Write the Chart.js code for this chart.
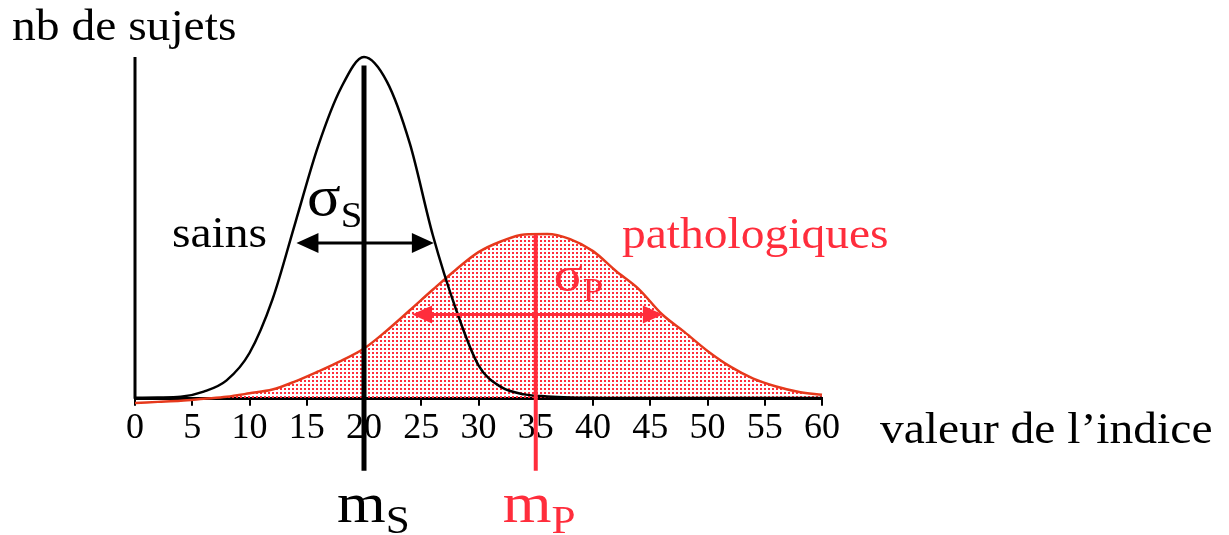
<!DOCTYPE html>
<html>
<head>
<meta charset="utf-8">
<script src="https://cdn.jsdelivr.net/npm/chart.js@4/dist/chart.umd.min.js"></script>
<style>
  html, body { margin: 0; padding: 0; background: #fff; }
</style>
</head>
<body>
<canvas id="chart" width="1229" height="535"></canvas>
<script>
// values (y: arbitrary "nb de sujets", 100 = top of axis)
const xValues = [0, 2, 4, 6, 8, 10, 12, 14, 16, 18, 20, 22, 24, 26, 28, 30,
  32, 34, 36, 38, 40, 42, 44, 46, 48, 50, 52, 54, 56, 58, 60];
const sainsValues = [0.3, 0.4, 0.6, 2.1, 5.4, 13.4, 29, 51.5, 74, 91, 100, 92.8, 74.7, 48, 26.5, 9.8,
  3.4, 1.3, 0.7, 0.4, 0.3, 0.2, 0.2, 0.2, 0.2, 0.2, 0.2, 0.2, 0.2, 0.2, 0.2];
const pathoValues = [-1.2, -0.9, -0.6, 0, 0.6, 1.6, 2.7, 5.1, 8, 11.1, 14.7, 20, 25.9, 31.9, 37.7, 42.9,
  46.1, 48.1, 48.2, 46.7, 43.2, 37.4, 32.1, 24.8, 19.5, 14, 9.4, 5.9, 3.6, 2, 1.2];
const xTickStep = 5;

const meanS = 20;
const meanP = 35;
const sigmaSArrow = [14.1, 26.1, 45.6]; // from, to, height
const sigmaPArrow = [24.2, 46.1, 24.7];

const RED = "#ff2d3c";
const RED_LINE = "#e6391c";
const SERIF = '"Liberation Serif", "Times New Roman", serif';

const canvas = document.getElementById("chart");
const ctx = canvas.getContext("2d");

// dotted fill like the original
function dotPattern() {
  const tile = document.createElement("canvas");
  tile.width = 4;
  tile.height = 4;
  const g = tile.getContext("2d");
  g.fillStyle = RED;
  g.fillRect(0, 0, 2, 2);
  return ctx.createPattern(tile, "repeat");
}

function toPoints(ys) {
  return xValues.map((x, i) => ({ x, y: ys[i] }));
}

// text is a bit wider than tall in the source picture
function drawText(c, text, x, y, size, color) {
  c.save();
  c.translate(x, y);
  c.scale(1.08, 1);
  c.font = `${size}px ${SERIF}`;
  c.fillStyle = color;
  c.textAlign = "left";
  c.textBaseline = "alphabetic";
  c.fillText(text, 0, 0);
  const w = c.measureText(text).width * 1.08;
  c.restore();
  return w;
}

function drawSub(c, main, sub, x, y, size, subSize, drop, color) {
  const w = drawText(c, main, x, y, size, color);
  drawText(c, sub, x + w, y + drop, subSize, color);
}

function drawArrow(c, x1, x2, yy, color, lw, len, half) {
  c.strokeStyle = color;
  c.fillStyle = color;
  c.lineWidth = lw;
  c.beginPath();
  c.moveTo(x1 + len / 2, yy);
  c.lineTo(x2 - len / 2, yy);
  c.stroke();
  c.beginPath();
  c.moveTo(x1, yy);
  c.lineTo(x1 + len, yy - half);
  c.lineTo(x1 + len, yy + half);
  c.closePath();
  c.fill();
  c.beginPath();
  c.moveTo(x2, yy);
  c.lineTo(x2 - len, yy - half);
  c.lineTo(x2 - len, yy + half);
  c.closePath();
  c.fill();
}

const annotations = {
  id: "annotations",
  afterDraw(chart) {
    const c = chart.ctx;
    const { chartArea } = chart;
    const x = chart.scales.x;
    const y = chart.scales.y;
    c.save();

    // y axis
    c.strokeStyle = "#000";
    c.lineWidth = 3;
    c.beginPath();
    c.moveTo(x.getPixelForValue(0), y.getPixelForValue(100));
    c.lineTo(x.getPixelForValue(0), chartArea.bottom);
    c.stroke();

    // means
    const pS = x.getPixelForValue(meanS);
    const pP = x.getPixelForValue(meanP);
    c.lineWidth = 5;
    c.beginPath();
    c.moveTo(pS, y.getPixelForValue(97.5));
    c.lineTo(pS, chartArea.bottom + 72);
    c.stroke();
    c.strokeStyle = RED;
    c.lineWidth = 4;
    c.beginPath();
    c.moveTo(pP, y.getPixelForValue(48));
    c.lineTo(pP, chartArea.bottom + 72);
    c.stroke();

    // sigma arrows
    drawArrow(c, x.getPixelForValue(sigmaSArrow[0]), x.getPixelForValue(sigmaSArrow[1]),
      y.getPixelForValue(sigmaSArrow[2]), "#000", 3, 22, 10);
    drawArrow(c, x.getPixelForValue(sigmaPArrow[0]), x.getPixelForValue(sigmaPArrow[1]),
      y.getPixelForValue(sigmaPArrow[2]), RED, 3, 20, 9);

    // labels
    drawText(c, "nb de sujets", 12, 40, 44, "#000");
    drawText(c, "valeur de l\u2019indice", 880, 443, 44, "#000");
    drawText(c, "sains", 172, 247, 44, "#000");
    drawText(c, "pathologiques", 622, 248, 44, RED);
    drawSub(c, "\u03c3", "S", pS - 57, 215, 58, 36, 12, "#000");
    drawSub(c, "\u03c3", "P", pP + 18, 291, 50, 34, 10, RED);
    drawSub(c, "m", "S", pS - 27, 522, 58, 40, 11, "#000");
    drawSub(c, "m", "P", pP - 33, 522, 58, 40, 11, RED);

    c.restore();
  },
};

new Chart(ctx, {
  type: "line",
  data: {
    datasets: [
      {
        label: "sains",
        data: toPoints(sainsValues),
        borderColor: "#000",
        borderWidth: 2.5,
        pointRadius: 0,
        fill: false,
        cubicInterpolationMode: "monotone",
        clip: false,
        order: 0,
      },
      {
        label: "pathologiques",
        data: toPoints(pathoValues),
        borderColor: RED_LINE,
        borderWidth: 2.5,
        backgroundColor: dotPattern(),
        fill: "origin",
        pointRadius: 0,
        cubicInterpolationMode: "monotone",
        clip: false,
        order: 1,
      },
    ],
  },
  options: {
    responsive: false,
    animation: false,
    devicePixelRatio: 1,
    layout: { padding: { left: 135, right: 407, top: 57, bottom: 84 } },
    plugins: { legend: { display: false }, tooltip: { enabled: false } },
    scales: {
      x: {
        type: "linear",
        min: 0,
        max: 60,
        ticks: {
          stepSize: xTickStep,
          color: "#000",
          font: { family: SERIF, size: 36 },
          padding: 1,
        },
        grid: {
          display: true,
          drawOnChartArea: false,
          drawTicks: true,
          tickLength: 7,
          color: "#000",
          lineWidth: 2,
        },
        border: { display: true, color: "#000", width: 3 },
      },
      y: { display: false, min: 0, max: 100 },
    },
  },
  plugins: [annotations],
});
</script>
</body>
</html>
